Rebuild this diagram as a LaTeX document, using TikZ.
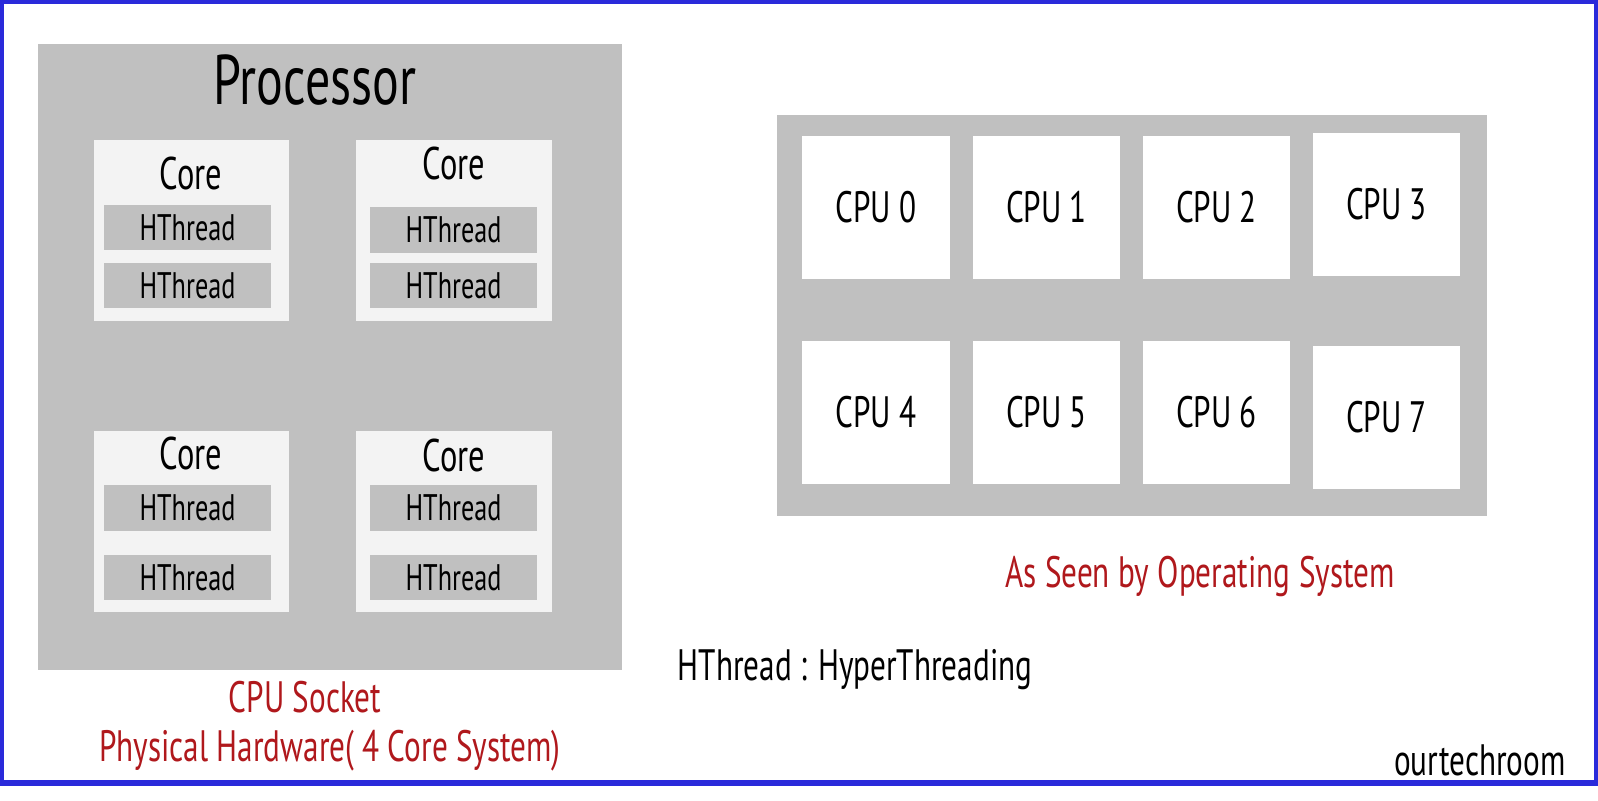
\documentclass[tikz,border=0pt]{standalone}
\usepackage{fontspec}
\setmainfont[FakeStretch=0.71]{PT Sans}
\definecolor{boxgray}{HTML}{C0C0C0}
\definecolor{corewhite}{HTML}{F3F3F3}
\definecolor{labelred}{HTML}{B0181C}
\definecolor{frameblue}{HTML}{2A2ADA}
\tikzset{
  core/.style={fill=corewhite,inner sep=0,minimum width=1.95cm,minimum height=1.81cm},
  hthread/.style={fill=boxgray,inner sep=0,minimum width=1.67cm,minimum height=0.45cm,font=\fontsize{10.5}{13}\selectfont},
  cpubox/.style={fill=white,inner sep=0,minimum width=1.47cm,minimum height=1.43cm,font=\fontsize{12.5}{15}\selectfont},
  redlabel/.style={text=labelred,font=\fontsize{12.5}{15}\selectfont}
}
\begin{document}
\begin{tikzpicture}[x=0.01cm,y=-0.01cm]

  \useasboundingbox (0,0) rectangle (1598,800);
  \fill[white] (0,0) rectangle (1598,800);
  \draw[frameblue,line width=1.5pt] (1,1) rectangle (1597,783);

  % physical side
  \node[fill=boxgray,inner sep=0,minimum width=5.84cm,minimum height=6.26cm] (proc) at (330,357) {};
  \node[font=\fontsize{20}{24}\selectfont] (proctitle) at (315,80) {Processor};

  \begin{scope}[every node/.style={core}]
    \node (core1) at (191.5,230.5) {};
    \node (core2) at (454,230.5) {};
    \node (core3) at (191.5,521.5) {};
    \node (core4) at (454,521.5) {};
  \end{scope}

  \begin{scope}[every node/.style={font=\fontsize{13}{15}\selectfont}]
    \node (corelabel1) at (191,173) {Core};
    \node (corelabel2) at (454,163) {Core};
    \node (corelabel3) at (191,453) {Core};
    \node (corelabel4) at (454,455) {Core};
  \end{scope}

  \begin{scope}[every node/.style={hthread}]
    \node (ht1) at (187.5,227.5) {HThread};
    \node (ht2) at (187.5,285.5) {HThread};
    \node (ht3) at (453.5,230) {HThread};
    \node (ht4) at (453.5,285.5) {HThread};
    \node (ht5) at (187.5,508) {HThread};
    \node (ht6) at (187.5,577.5) {HThread};
    \node (ht7) at (453.5,508) {HThread};
    \node (ht8) at (453.5,577.5) {HThread};
  \end{scope}

  % os side
  \node[fill=boxgray,inner sep=0,minimum width=7.10cm,minimum height=4.01cm] (os) at (1132,315.5) {};

  \begin{scope}[every node/.style={cpubox}]
    \node (cpu0) at (876,207.5) {CPU 0};
    \node (cpu1) at (1046.5,207.5) {CPU 1};
    \node (cpu2) at (1216.5,207.5) {CPU 2};
    \node (cpu3) at (1386.5,204.5) {CPU 3};
    \node (cpu4) at (876,412.5) {CPU 4};
    \node (cpu5) at (1046.5,412.5) {CPU 5};
    \node (cpu6) at (1216.5,412.5) {CPU 6};
    \node (cpu7) at (1386.5,417.5) {CPU 7};
  \end{scope}

  % captions
  \node[redlabel] (oslabel) at (1200,576) {As Seen by Operating System};
  \node[font=\fontsize{12.5}{15}\selectfont] (legend) at (855,670) {HThread : HyperThreading};
  \node[redlabel] (socket) at (305,697) {CPU Socket};
  \node[redlabel] (physical) at (330,751) {Physical Hardware( 4 Core System)};
  \node[font=\fontsize{12.5}{15}\selectfont,anchor=east] (site) at (1578,760) {ourtechroom};

\end{tikzpicture}
\end{document}
